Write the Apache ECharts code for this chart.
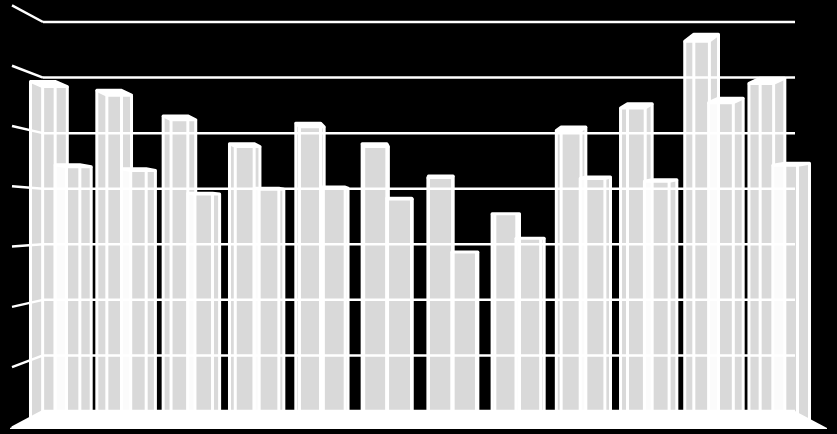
<!DOCTYPE html>
<html>
<head>
<meta charset="utf-8">
<style>html,body{margin:0;padding:0;background:#000}#c{width:837px;height:434px}</style>
<script src="https://cdn.jsdelivr.net/npm/echarts@6/dist/echarts.min.js"></script>
</head>
<body>
<div id="c"></div>
<script>
const categories = ['1','2','3','4','5','6','7','8','9','10','11','12'];
const seriesA = [59.3,57.7,53.1,48.1,51.8,48.1,42.3,35.5,51.1,55.3,67.8,59.9];
const seriesB = [44.3,43.6,39.2,40.1,40.3,38.3,28.6,31.1,42.1,41.6,56.3,44.6];
const ticks = [0,10,20,30,40,50,60,70];

const WHITE = '#ffffff', GREY = '#d9d9d9', PANEL = '#fbfbfb';
const VX = 410, VY = 217, KX = 0.032, KY = 0.038;
const WALL_L = 43, WALL_R = 795, STUB_L = 12, KW = 0.085;

function line(x1, y1, x2, y2, w) {
  return {type:'line', shape:{x1,y1,x2,y2}, style:{stroke:WHITE, lineWidth:w||3}};
}
function poly(points, fill, stroke) {
  return {type:'polygon', shape:{points}, style:{fill, stroke:stroke||null, lineWidth:stroke?3:0, lineJoin:'round'}};
}
function barItem(side) {
  return function (params, api) {
    const c = api.coord([api.value(0), api.value(1)]);
    const band = api.size([1, 0])[0];
    const w = band * 0.372;
    const x0 = side === 0 ? c[0] - w : c[0];
    const x1 = x0 + w;
    const y = c[1];
    const bottom = api.coord([api.value(0), 0])[1] + 16;
    const s = (VX - x0) * KX;
    const dy = Math.max(0, (VY - y) * KY);
    const fy = y + dy;
    const hull = s >= 0
      ? [[x0,y],[x1,y],[x1+s,fy],[x1+s,bottom],[x0,bottom]]
      : [[x0+s,fy],[x0,y],[x1,y],[x1,bottom],[x0+s,bottom]];
    const kids = [poly(hull, GREY)];
    if (side === 1) {
      kids.push(poly([[x0,y],[x0+s,fy],[x0+s,bottom],[x0,bottom]], PANEL));
    }
    kids.push(line(x0, y, x0, bottom), line(x1, y, x1, bottom));
    kids.push(line(x0+s, fy, x0+s, bottom), line(x1+s, fy, x1+s, bottom));
    kids.push(poly([[x0,y],[x1,y],[x1+s,fy],[x0+s,fy]], WHITE, WHITE));
    return {type:'group', children:kids};
  };
}
function wallItem(params, api) {
  const y = api.coord([0, api.value(0)])[1];
  const yf = y + (y - VY) * KW;
  return {type:'group', children:[
    line(STUB_L, yf, WALL_L, y, 2.5),
    line(WALL_L, y, WALL_R, y, 2.5)
  ]};
}
function floorItem(params, api) {
  const y = api.coord([0, 0])[1];
  return poly([[10,y+17],[WALL_L,y],[WALL_R,y],[827,y+17],[827,y+18],[10,y+18]], WHITE);
}

const chart = echarts.init(document.getElementById('c'), null, {renderer:'canvas'});
chart.setOption({
  backgroundColor:'#000000',
  animation:false,
  grid:{left:22, width:796, top:22, height:389},
  xAxis:{type:'category', data:categories, show:false},
  yAxis:{type:'value', min:0, max:70, interval:10, show:false},
  series:[
    {type:'custom', name:'A', data:categories.map((c,i)=>[i,seriesA[i]]), renderItem:barItem(0), clip:false, z:2},
    {type:'custom', name:'B', data:categories.map((c,i)=>[i,seriesB[i]]), renderItem:barItem(1), clip:false, z:3},
    {type:'custom', name:'grid', data:ticks.map(t=>[t]), renderItem:wallItem, clip:false, z:4, encode:{y:0}},
    {type:'custom', name:'floor', data:[[0]], renderItem:floorItem, clip:false, z:5, encode:{y:0}}
  ]
});
</script>
</body>
</html>
